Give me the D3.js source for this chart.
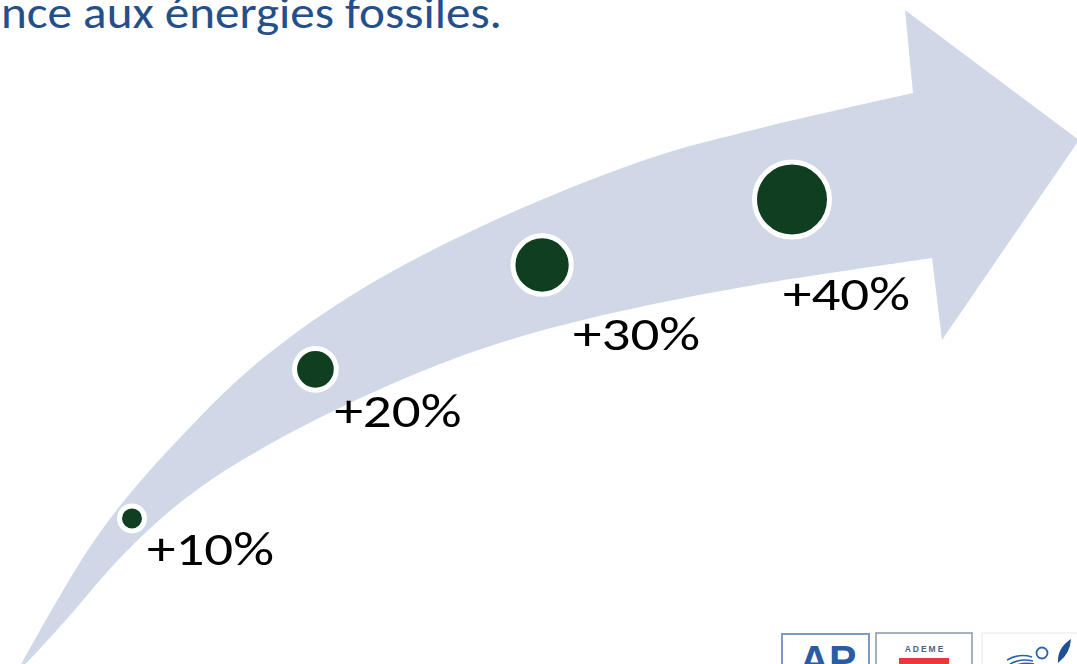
<!DOCTYPE html>
<html>
<head>
<meta charset="utf-8">
<script src="https://cdn.jsdelivr.net/npm/d3@7"></script>
<style>
  html, body { margin: 0; padding: 0; background: #ffffff; overflow: hidden; }
  svg { display: block; }
</style>
</head>
<body>
<svg id="chart" width="1077" height="664"></svg>
<script>
// ---------- DATA ----------
const categories = ["+10%", "+20%", "+30%", "+40%"];
const values = [10, 20, 30, 40];
const titleText = "nce aux énergies fossiles.";
const logoTexts = ["AP", "ADEME"];

// ---------- LAYOUT ----------
const W = 1077, H = 664;
const svg = d3.select("#chart");

const arrowFill = "#D0D8E7";
const dotFill = "#0F3F20";

// arrow edges (shape outline, decoration)
const upperEdge = [[18,670],[40,630],[62,592],[86,552],[113,514],[145,475],[187,430],[250,365],[350,293],[450,240],[550,195],[650,157],[700,143],[800,118],[913,93]];
const lowerEdge = [[18,670],[27,663],[60,627],[89,593],[117,560],[157,521],[200,486],[250,455],[297,429],[350,402],[450,358],[550,327],[650,304],[750,285],[850,270],[932,258]];
const headPts = [[905,10],[1079,140],[942,340]];

const edgeLine = d3.line().curve(d3.curveBasis);
const upperD = edgeLine(upperEdge);
const lowerRevD = edgeLine(lowerEdge.slice().reverse());
const outline = upperD + headPts.map(p => "L" + p[0] + "," + p[1]).join("") + lowerRevD.replace(/^M/, "L") + "Z";

svg.append("path").attr("d", outline).attr("fill", arrowFill);

// sample edges to build centerline
function sample(d) {
  const p = svg.append("path").attr("d", d).attr("fill", "none").attr("stroke", "none");
  const node = p.node();
  const L = node.getTotalLength();
  const pts = [];
  for (let s = 0; s <= L; s += 0.5) { const q = node.getPointAtLength(s); pts.push([q.x, q.y]); }
  p.remove();
  pts.sort((a, b) => a[0] - b[0]);
  return pts;
}
const upS = sample(upperD), loS = sample(edgeLine(lowerEdge));
const bis = d3.bisector(d => d[0]).left;
function yAt(pts, x) {
  let i = bis(pts, x);
  if (i <= 0) return pts[0][1];
  if (i >= pts.length) return pts[pts.length - 1][1];
  const a = pts[i - 1], b = pts[i];
  const t = b[0] === a[0] ? 0 : (x - a[0]) / (b[0] - a[0]);
  return a[1] + t * (b[1] - a[1]);
}
const center = d3.range(25, 910, 1).map(x => [x, (yAt(upS, x) + yAt(loS, x)) / 2]);
const cum = [0];
for (let i = 1; i < center.length; i++) {
  cum.push(cum[i - 1] + Math.hypot(center[i][0] - center[i - 1][0], center[i][1] - center[i - 1][1]));
}
function arcAtX(x) { return cum[Math.max(0, Math.min(center.length - 1, Math.round(x - 25)))]; }
function pointAtArc(s) {
  let i = d3.bisectLeft(cum, s);
  if (i <= 0) return center[0];
  if (i >= cum.length) return center[center.length - 1];
  const t = (s - cum[i - 1]) / (cum[i] - cum[i - 1]);
  return [center[i - 1][0] + t * (center[i][0] - center[i - 1][0]), center[i - 1][1] + t * (center[i][1] - center[i - 1][1])];
}

// scales
const posScale = d3.scalePow().exponent(1.1).domain([10, 40]).range([arcAtX(132), arcAtX(792)]);
const rScale = d3.scaleLinear().domain([10, 40]).range([10, 35]);

const data = categories.map((c, i) => {
  const p = pointAtArc(posScale(values[i]));
  return { label: c, value: values[i], x: p[0], y: p[1] };
});

// label offsets from dot centre (layout)
const labelOffsets = [[15, 47], [19, 58], [31, 85], [-9, 110]];

svg.append("g").selectAll("circle").data(data).join("circle")
  .attr("cx", d => d.x).attr("cy", d => d.y)
  .attr("r", d => rScale(d.value) + 2.5)
  .attr("fill", dotFill).attr("stroke", "#ffffff").attr("stroke-width", 5);

svg.append("g").selectAll("text").data(data).join("text")
  .attr("x", (d, i) => d.x + labelOffsets[i][0])
  .attr("y", (d, i) => d.y + labelOffsets[i][1])
  .attr("font-family", "Carlito, Calibri, Lato, sans-serif")
  .attr("font-size", 47)
  .attr("fill", "#000000")
  .attr("textLength", 127)
  .attr("lengthAdjust", "spacingAndGlyphs")
  .text(d => d.label);

// title (cropped)
svg.append("text")
  .attr("x", 1).attr("y", 28)
  .attr("font-family", "Carlito, Calibri, Lato, sans-serif")
  .attr("font-size", 45)
  .attr("fill", "#24508A")
  .attr("textLength", 501)
  .attr("lengthAdjust", "spacingAndGlyphs")
  .text(titleText);

// logos (cropped at bottom)
const logos = svg.append("g");
logos.append("rect").attr("x", 782).attr("y", 634).attr("width", 87).attr("height", 50)
  .attr("fill", "#fff").attr("stroke", "#7C98C4").attr("stroke-width", 2);
logos.append("text").attr("x", 828).attr("y", 674).attr("text-anchor", "middle")
  .attr("font-family", "Liberation Sans, Arial, sans-serif").attr("font-weight", "bold")
  .attr("font-size", 41).attr("fill", "#2A5CA5").text(logoTexts[0]);

logos.append("rect").attr("x", 876).attr("y", 633).attr("width", 96).attr("height", 50)
  .attr("fill", "#fff").attr("stroke", "#8898AA").attr("stroke-width", 1.5);
logos.append("text").attr("x", 925).attr("y", 652).attr("text-anchor", "middle")
  .attr("font-family", "Liberation Sans, Arial, sans-serif").attr("font-weight", "bold")
  .attr("font-size", 8.5).attr("letter-spacing", 2).attr("fill", "#50608A").text(logoTexts[1]);
logos.append("rect").attr("x", 899).attr("y", 658).attr("width", 50).attr("height", 10).attr("fill", "#E8383D");

logos.append("rect").attr("x", 982).attr("y", 633).attr("width", 110).attr("height", 50)
  .attr("fill", "#fff").attr("stroke", "#E6EAF0").attr("stroke-width", 1);
logos.append("circle").attr("cx", 1042).attr("cy", 653).attr("r", 5.5)
  .attr("fill", "none").attr("stroke", "#2A62B0").attr("stroke-width", 1.8);
["M1007,660 Q1019,653 1032,657", "M1010,664 Q1021,658 1033,661", "M1014,666 Q1024,662 1034,664"].forEach(d =>
  logos.append("path").attr("d", d).attr("fill", "none").attr("stroke", "#2A62B0").attr("stroke-width", 1.6));
logos.append("path").attr("d", "M1058,663 Q1057,648 1071,639 Q1070,653 1060,661 Z").attr("fill", "#1F4F95");
</script>
</body>
</html>
